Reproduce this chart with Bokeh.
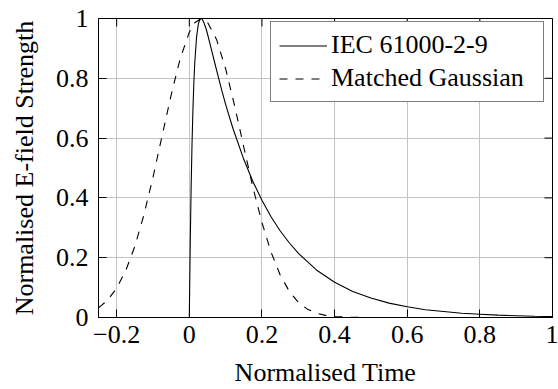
import math
from bokeh.plotting import figure
from bokeh.models import Range1d, FixedTicker, Legend, LegendItem
from bokeh.embed import file_html
from bokeh.resources import INLINE

# ---- data ----
iec_t = [0.0, 0.0025, 0.005, 0.0075, 0.01, 0.0125, 0.015, 0.02, 0.025, 0.03,
         0.035, 0.04, 0.045, 0.05, 0.06, 0.07, 0.08, 0.09, 0.1, 0.12, 0.15,
         0.175, 0.2, 0.225, 0.25, 0.275, 0.3, 0.35, 0.4, 0.45, 0.5, 0.55,
         0.6, 0.65, 0.7, 0.75, 0.8, 0.85, 0.9, 0.95, 1.0]
iec_e = [0.0, 0.243, 0.433, 0.581, 0.696, 0.784, 0.851, 0.938, 0.982, 1.0,
         0.999, 0.987, 0.970, 0.949, 0.901, 0.852, 0.804, 0.757, 0.713, 0.633, 0.529,
         0.455, 0.392, 0.337, 0.290, 0.250, 0.215, 0.159, 0.118, 0.087, 0.065, 0.048,
         0.036, 0.026, 0.020, 0.014, 0.011, 0.008, 0.006, 0.004, 0.003]

gauss_t = [-0.25, -0.225, -0.2, -0.175, -0.15, -0.125, -0.1, -0.075, -0.05, -0.025,
           0.0, 0.015, 0.033, 0.05, 0.075, 0.1, 0.125, 0.15, 0.175, 0.2, 0.225,
           0.25, 0.275, 0.3, 0.325, 0.35, 0.375, 0.4, 0.45, 0.5, 0.6, 0.8, 1.0]
gauss_e = [0.032, 0.058, 0.098, 0.157, 0.238, 0.343, 0.469, 0.607, 0.744, 0.866,
           0.954, 0.986, 1.0, 0.988, 0.930, 0.832, 0.707, 0.570, 0.436, 0.318, 0.219,
           0.143, 0.088, 0.051, 0.028, 0.0145, 0.007, 0.0033, 0.0006, 0.0001, 0.0, 0.0, 0.0]

series_names = ["IEC 61000-2-9", "Matched Gaussian"]

x_ticks = [-0.2, 0, 0.2, 0.4, 0.6, 0.8, 1]
x_tick_labels = ["\u22120.2", "0", "0.2", "0.4", "0.6", "0.8", "1"]
y_ticks = [0, 0.2, 0.4, 0.6, 0.8, 1]
y_tick_labels = ["0", "0.2", "0.4", "0.6", "0.8", "1"]

x_lo, x_hi = -0.25, 1
y_lo, y_hi = 0, 1

FONT = "Liberation Serif"
FS = "26px"

p = figure(width=558, height=389, x_range=Range1d(x_lo, x_hi), y_range=Range1d(y_lo, y_hi),
           output_backend="svg", toolbar_location=None,
           min_border_left=98, min_border_right=6, min_border_top=18, min_border_bottom=68)
p.outline_line_color = "black"
p.outline_line_width = 1
p.background_fill_color = "white"
p.border_fill_color = "white"

xa = p.xaxis[0]
ya = p.yaxis[0]
for ax, ticks, labels in ((xa, x_ticks, x_tick_labels), (ya, y_ticks, y_tick_labels)):
    ax.ticker = FixedTicker(ticks=ticks)
    ax.major_label_overrides = {t: l for t, l in zip(ticks, labels)}
    ax.major_tick_in = 8
    ax.major_tick_out = 0
    ax.minor_tick_in = 0
    ax.minor_tick_out = 0
    ax.axis_line_color = "black"
    ax.major_tick_line_color = "black"
    ax.major_label_text_font = FONT
    ax.major_label_text_font_size = FS
    ax.major_label_text_color = "black"
    ax.axis_label_text_font = FONT
    ax.axis_label_text_font_size = FS
    ax.axis_label_text_font_style = "normal"
    ax.axis_label_text_color = "black"
xa.major_label_standoff = 8
ya.major_label_standoff = 10
xa.axis_label = "Normalised Time"
ya.axis_label = "Normalised E-field Strength"
xa.axis_label_standoff = 12
ya.axis_label_standoff = 14

p.xgrid.ticker = FixedTicker(ticks=x_ticks)
p.ygrid.ticker = FixedTicker(ticks=y_ticks)
p.grid.grid_line_color = "#c4c4c4"
p.grid.grid_line_width = 1

# mirrored inward ticks on the top and right edges (half of each dash is clipped away)
p.scatter(x_ticks, [y_hi] * len(x_ticks), marker="dash", size=16, angle=math.pi / 2,
          line_color="black", line_width=1)
p.scatter([x_hi] * len(y_ticks), y_ticks, marker="dash", size=16,
          line_color="black", line_width=1)

r1 = p.line(iec_t, iec_e, line_color="black", line_width=1.1)
r2 = p.line(gauss_t, gauss_e, line_color="black", line_width=1.1, line_dash="8 8")

legend = Legend(items=[LegendItem(label=series_names[0], renderers=[r1]),
                       LegendItem(label=series_names[1], renderers=[r2])],
                location=(172, 215))
legend.padding = 8
legend.spacing = 3
legend.margin = 0
legend.glyph_width = 48
legend.glyph_height = 29
legend.label_height = 29
legend.label_width = 204
legend.label_standoff = 4
legend.border_line_color = "black"
legend.border_line_width = 1
legend.background_fill_color = "white"
legend.background_fill_alpha = 1
legend.label_text_font = FONT
legend.label_text_font_size = FS
legend.label_text_color = "black"
p.add_layout(legend)

open("out.html", "w").write(file_html(p, INLINE))
